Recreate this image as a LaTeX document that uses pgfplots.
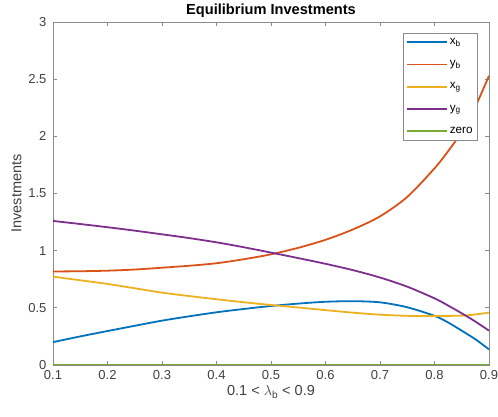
\documentclass[border=0pt]{standalone}
\usepackage{fontspec}
\setmainfont{Liberation Sans}
\usepackage{pgfplots}
\pgfplotsset{compat=1.18}
\definecolor{mblue}{rgb}{0,0.447,0.741}
\definecolor{morange}{rgb}{0.85,0.325,0.098}
\definecolor{myellow}{rgb}{0.929,0.694,0.125}
\definecolor{mpurple}{rgb}{0.494,0.184,0.556}
\definecolor{mgreen}{rgb}{0.466,0.674,0.188}
\definecolor{axgray}{HTML}{8A8A8A}
\definecolor{txtgray}{HTML}{404040}
\begin{document}
\begin{tikzpicture}
\begin{axis}[
  scale only axis,
  width=436pt, height=343pt,
  xmin=0.1, xmax=0.9, ymin=0, ymax=3,
  xtick={0.1,0.2,0.3,0.4,0.5,0.6,0.7,0.8,0.9},
  xticklabels={0.1,0.2,0.3,0.4,0.5,0.6,0.7,0.8,0.9},
  ytick={0,0.5,1,1.5,2,2.5,3},
  yticklabels={0,0.5,1,1.5,2,2.5,3},
  tick align=inside,
  major tick length=4pt,
  axis line style={axgray, line width=0.8pt},
  every tick/.style={axgray, line width=0.8pt},
  /pgf/number format/assume math mode=true,
  tick label style={font=\fontsize{13}{15}\selectfont, text=txtgray},
  yticklabel style={xshift=-3pt},
  xticklabel style={yshift=-2pt},
  label style={font=\fontsize{14.5}{16}\selectfont, text=txtgray},
  xlabel style={yshift=1pt},
  title style={font=\fontsize{14.6}{16}\selectfont\bfseries, yshift=-5pt},
  title={Equilibrium Investments},
  xlabel={0.1 < $\lambda$\textsubscript{b} < 0.9},
  ylabel={Investments},
  legend style={
    at={(1,1)}, anchor=north east, xshift=-11pt, yshift=-11pt,
    font=\fontsize{11.7}{13}\selectfont,
    draw=axgray, line width=0.8pt,
    row sep=10.5pt, inner sep=3pt,
    cells={anchor=west},
  },
  legend image code/.code={\draw[#1] (0pt,0pt) -- (40pt,0pt);},
]
\addplot[mblue, line width=1.8pt, smooth] coordinates {
(0.1,0.2) (0.15,0.25) (0.2,0.297) (0.25,0.343) (0.3,0.388) (0.35,0.426)
(0.4,0.461) (0.45,0.49) (0.5,0.516) (0.55,0.537) (0.6,0.553) (0.65,0.558)
(0.7,0.548) (0.75,0.505) (0.8,0.43) (0.825,0.372) (0.85,0.30) (0.875,0.225) (0.9,0.137)};
\addlegendentry{x\textsubscript{b}}
\addplot[morange, line width=1.8pt, smooth] coordinates {
(0.1,0.818) (0.15,0.82) (0.2,0.825) (0.25,0.835) (0.3,0.851) (0.35,0.868)
(0.4,0.89) (0.45,0.925) (0.5,0.968) (0.55,1.025) (0.6,1.095) (0.65,1.185)
(0.7,1.30) (0.75,1.47) (0.8,1.72) (0.825,1.87) (0.85,2.04) (0.875,2.26) (0.9,2.53)};
\addlegendentry{y\textsubscript{b}}
\addplot[myellow, line width=1.8pt, smooth] coordinates {
(0.1,0.773) (0.15,0.741) (0.2,0.709) (0.25,0.671) (0.3,0.633) (0.35,0.603)
(0.4,0.575) (0.45,0.549) (0.5,0.525) (0.55,0.503) (0.6,0.48) (0.65,0.458)
(0.7,0.44) (0.75,0.43) (0.8,0.428) (0.85,0.432) (0.875,0.442) (0.9,0.458)};
\addlegendentry{x\textsubscript{g}}
\addplot[mpurple, line width=1.8pt, smooth] coordinates {
(0.1,1.26) (0.15,1.233) (0.2,1.205) (0.25,1.175) (0.3,1.143) (0.35,1.11)
(0.4,1.073) (0.45,1.03) (0.5,0.983) (0.55,0.935) (0.6,0.885) (0.65,0.83)
(0.7,0.765) (0.75,0.685) (0.8,0.583) (0.825,0.52) (0.85,0.452) (0.875,0.38) (0.9,0.30)};
\addlegendentry{y\textsubscript{g}}
\addplot[mgreen, line width=1.8pt] coordinates {(0.1,0) (0.9,0)};
\addlegendentry{zero}
\end{axis}
\pgfresetboundingbox
\path ([shift={(-53pt,-52pt)}]current axis.south west) rectangle ([shift={(9pt,22pt)}]current axis.north east);
\end{tikzpicture}
\end{document}
